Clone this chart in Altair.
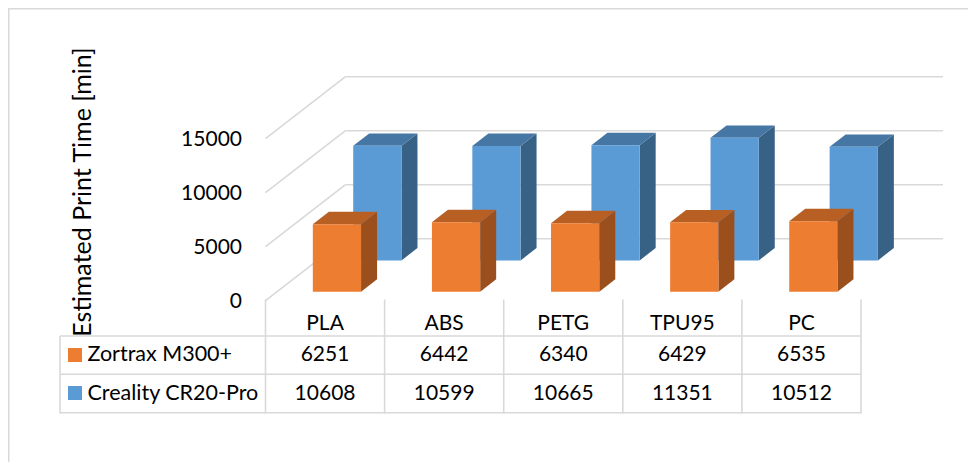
import altair as alt
import pandas as pd

categories = ["PLA", "ABS", "PETG", "TPU95", "PC"]
zortrax = [6251, 6442, 6340, 6429, 6535]
creality = [10608, 10599, 10665, 11351, 10512]
y_ticks = [0, 5000, 10000, 15000]
series_names = ["Zortrax M300+", "Creality CR20-Pro"]

FONT = "Lato"
FS = 21
GRID = "#D9D9D9"
W, H = 960, 454
COL = 119.1            # px per category
PXV = 0.0108           # px per minute
X0, Y0 = 265.5, 300.7  # page position of the front-left floor corner
DX = 80 / COL          # full chart depth in category units
DY = 62 / PXV          # full chart depth in minutes

xs = alt.Scale(domain=[(8 - X0) / COL, (8 + W - X0) / COL], nice=False, zero=False)
ys = alt.Scale(domain=[(Y0 - 8 - H) / PXV, (Y0 - 8) / PXV], nice=False, zero=False)


def page_y(v):
    return v - 8


def page_x(v):
    return v - 8


X = lambda f="x": alt.X(f"{f}:Q", scale=xs, axis=None)
Y = lambda f="y": alt.Y(f"{f}:Q", scale=ys, axis=None)
PX = lambda f="px": alt.X(f"{f}:Q", scale=None, axis=None)
PY = lambda f="py": alt.Y(f"{f}:Q", scale=None, axis=None)


def bars(values, z0, front, top, side, key):
    dz, u, w = 0.2, 0.3, 0.405
    z1 = z0 + dz
    fr, tp, sd = [], [], []
    for i, v in enumerate(values):
        fr.append(dict(x=i + u + z0 * DX, x2=i + u + w + z0 * DX, y=z0 * DY, y2=v + z0 * DY))
        for z in (z0, z1):
            tp.append(dict(id=i, y=v + z * DY, x=i + u + z * DX, x2=i + u + w + z * DX))
            sd.append(dict(id=i, x=i + u + w + z * DX, y=z * DY, y2=v + z * DY))
    return [
        alt.Chart(pd.DataFrame(sd)).mark_area(color=side, orient="vertical").encode(
            x=X(), y=Y(), y2=alt.Y2("y2:Q"), detail="id:N"),
        alt.Chart(pd.DataFrame(tp)).mark_area(color=top, orient="horizontal").encode(
            x=X(), x2=alt.X2("x2:Q"), y=Y(), detail="id:N"),
        alt.Chart(pd.DataFrame(fr)).mark_rect(color=front).encode(
            x=X(), x2=alt.X2("x2:Q"), y=Y(), y2=alt.Y2("y2:Q")),
    ]


# walls
back = pd.DataFrame([dict(x=DX, x2=(943 - X0) / COL, y=t + DY) for t in y_ticks])
diag = pd.DataFrame([dict(x=0, x2=DX, y=t, y2=t + DY) for t in y_ticks])
grid = [
    alt.Chart(back).mark_rule(color=GRID, strokeWidth=1.6).encode(
        x=X(), x2=alt.X2("x2:Q"), y=Y()),
    alt.Chart(diag).mark_rule(color=GRID, strokeWidth=1.6).encode(
        x=X(), x2=alt.X2("x2:Q"), y=Y(), y2=alt.Y2("y2:Q")),
]

# outer frame
frame = [
    alt.Chart(pd.DataFrame({"a": [0]})).mark_rule(color=GRID, strokeWidth=3).encode(
        x=alt.value(0), y=alt.value(0), y2=alt.value(H)),
    alt.Chart(pd.DataFrame({"a": [0]})).mark_rule(color=GRID, strokeWidth=3).encode(
        x=alt.value(0), x2=alt.value(W), y=alt.value(0)),
]

# data table
rows_y = [336, 374.3, 412.7]
h_lines = pd.DataFrame([dict(px=page_x(60), px2=page_x(X0 + 5 * COL), py=page_y(r)) for r in rows_y])
v_lines = pd.DataFrame([dict(x=i, py=page_y(299.5), py2=page_y(413.5)) for i in range(6)])
left_line = pd.DataFrame([dict(px=page_x(60), py=page_y(336), py2=page_y(413.5))])
table = [
    alt.Chart(h_lines).mark_rule(color=GRID, strokeWidth=1.6).encode(
        x=PX(), x2=alt.X2("px2:Q"), y=PY()),
    alt.Chart(v_lines).mark_rule(color=GRID, strokeWidth=1.6).encode(
        x=X(), y=PY(), y2=alt.Y2("py2:Q")),
    alt.Chart(left_line).mark_rule(color=GRID, strokeWidth=1.6).encode(
        x=PX(), y=PY(), y2=alt.Y2("py2:Q")),
]

cells = []
row_text_y = [323.5, 354.5, 393.5]
for i, c in enumerate(categories):
    cells.append(dict(x=i + 0.5, py=page_y(row_text_y[0]), t=c))
    cells.append(dict(x=i + 0.5, py=page_y(row_text_y[1]), t=str(zortrax[i])))
    cells.append(dict(x=i + 0.5, py=page_y(row_text_y[2]), t=str(creality[i])))
cell_text = alt.Chart(pd.DataFrame(cells)).mark_text(
    font=FONT, fontSize=FS, color="black", baseline="middle", align="center"
).encode(x=X(), y=PY(), text="t:N")

legend_df = pd.DataFrame([
    dict(px=page_x(87.5), py=page_y(row_text_y[1]), t=series_names[0]),
    dict(px=page_x(87.5), py=page_y(row_text_y[2]), t=series_names[1]),
])
legend_text = alt.Chart(legend_df).mark_text(
    font=FONT, fontSize=21.5, color="black", baseline="middle", align="left"
).encode(x=PX(), y=PY(), text="t:N")

swatches = pd.DataFrame([
    dict(px=page_x(68), px2=page_x(82), py=page_y(348), py2=page_y(362), c="#ED7D31"),
    dict(px=page_x(68), px2=page_x(82), py=page_y(386), py2=page_y(400), c="#5B9BD5"),
])
swatch = alt.Chart(swatches).mark_rect().encode(
    x=PX(), x2=alt.X2("px2:Q"), y=PY(), y2=alt.Y2("py2:Q"),
    color=alt.Color("c:N", scale=None))

# value-axis labels
tick_df = pd.DataFrame({"x": [0] * len(y_ticks), "y": y_ticks, "t": [str(t) for t in y_ticks]})
tick_text = alt.Chart(tick_df).mark_text(
    font=FONT, fontSize=FS, color="black", baseline="middle", align="right", dx=-23.5, dy=1.5
).encode(x=X(), y=Y(), text="t:N")

title_df = pd.DataFrame([dict(px=page_x(82.5), py=page_y(192), t="Estimated Print Time [min]")])
title = alt.Chart(title_df).mark_text(
    font=FONT, fontSize=25, color="black", baseline="middle", align="center", angle=270
).encode(x=PX(), y=PY(), text="t:N")

layers = (
    frame + grid
    + bars(creality, 0.65, "#5B9BD5", "#4676A3", "#386285", "c")
    + bars(zortrax, 0.145, "#ED7D31", "#B85F24", "#9A4F1C", "z")
    + table + [swatch, cell_text, legend_text, tick_text, title]
)

chart = alt.layer(*layers).properties(
    width=W, height=H, padding=0, autosize=alt.AutoSizeParams(type="none"), background="white"
).configure_view(stroke=None)

chart.save("out.html", embed_options={"renderer": "svg", "actions": False})
